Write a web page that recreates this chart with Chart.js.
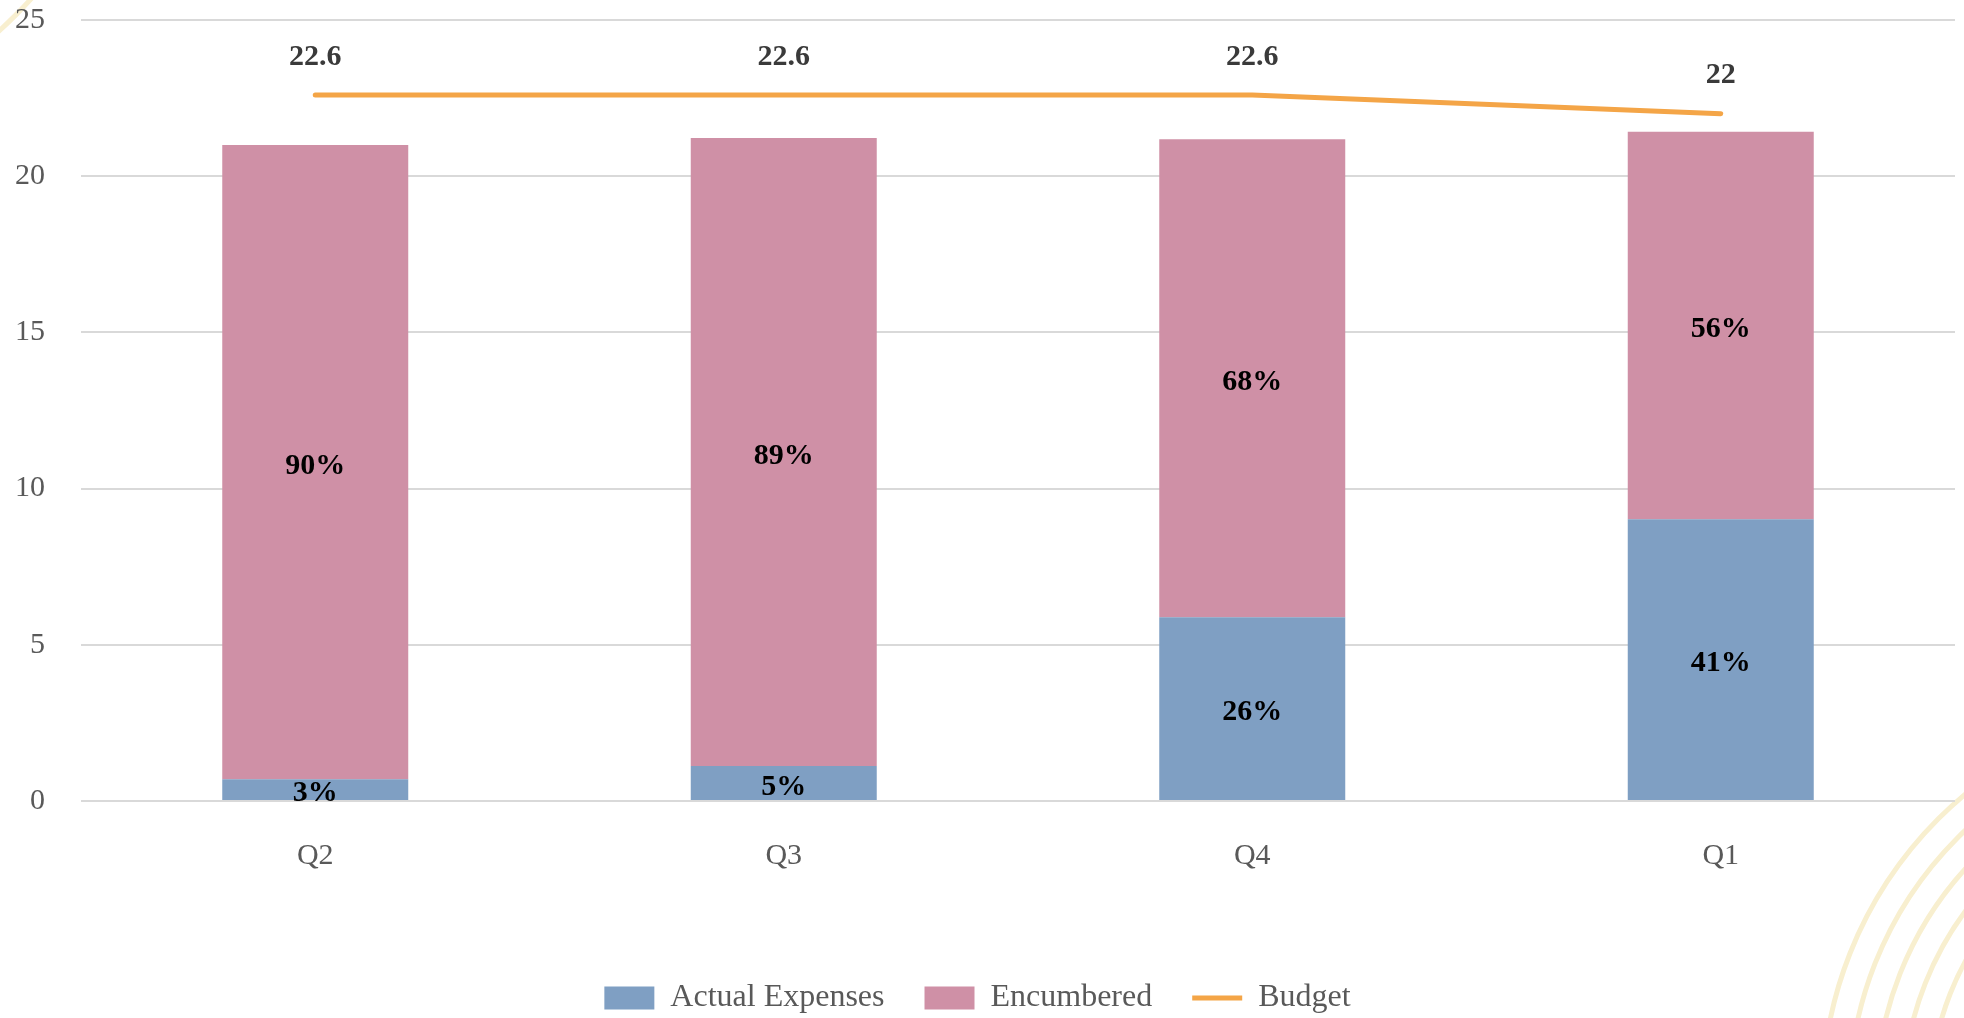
<!DOCTYPE html>
<html>
<head>
<meta charset="utf-8">
<script src="https://cdn.jsdelivr.net/npm/chart.js@4.4.1/dist/chart.umd.min.js"></script>
<style>
  html, body { margin: 0; padding: 0; background: #fff; }
  #wrap { width: 1964px; height: 1018px; position: relative; }
</style>
</head>
<body>
<div id="wrap"><canvas id="myChart"></canvas></div>
<script>
const quarters = ['Q2', 'Q3', 'Q4', 'Q1'];
const actualExpenses = [0.7, 1.12, 5.88, 9.02];
const encumbered = [20.3, 20.1, 15.3, 12.4];
const budget = [22.6, 22.6, 22.6, 22];
const yTicks = [0, 5, 10, 15, 20, 25];

const fontFamily = "'Liberation Serif', 'Times New Roman', serif";

// light arcs in the corners of the slide
const backdrop = {
  id: 'backdrop',
  beforeDraw(chart) {
    const ctx = chart.ctx;
    ctx.save();
    ctx.strokeStyle = '#f8efcf';
    ctx.lineWidth = 5;
    for (let k = 0; k < 6; k++) {
      ctx.beginPath();
      ctx.arc(2220, 1100, 398 - k * 27, 0, Math.PI * 2);
      ctx.stroke();
    }
    ctx.beginPath();
    ctx.arc(-300, -300, 446, 0, Math.PI * 2);
    ctx.stroke();
    ctx.restore();
  }
};

// value labels on the bars and above the budget line
const valueLabels = {
  id: 'valueLabels',
  afterDatasetsDraw(chart) {
    const ctx = chart.ctx;
    ctx.save();
    ctx.textAlign = 'center';
    ctx.textBaseline = 'middle';
    ctx.font = 'bold 30px ' + fontFamily;
    chart.data.datasets.forEach((ds, di) => {
      const meta = chart.getDatasetMeta(di);
      meta.data.forEach((el, i) => {
        const v = ds.data[i];
        if (ds.type === 'line') {
          ctx.fillStyle = '#3a3a3a';
          ctx.fillText(String(v), el.x, el.y - 38);
        } else {
          ctx.fillStyle = '#000';
          const pct = Math.round(v / budget[i] * 100) + '%';
          ctx.fillText(pct, el.x, (el.y + el.base) / 2 + 4);
        }
      });
    });
    ctx.restore();
  }
};

const ctx = document.getElementById('myChart').getContext('2d');
const myChart = new Chart(ctx, {
  data: {
    labels: quarters,
    datasets: [
      {
        type: 'bar',
        label: 'Actual Expenses',
        data: actualExpenses,
        backgroundColor: '#7f9fc3',
        stack: 's',
        order: 1,
        categoryPercentage: 1,
        barPercentage: 0.397
      },
      {
        type: 'bar',
        label: 'Encumbered',
        data: encumbered,
        backgroundColor: '#cf90a6',
        stack: 's',
        order: 1,
        categoryPercentage: 1,
        barPercentage: 0.397
      },
      {
        type: 'line',
        label: 'Budget',
        data: budget,
        borderColor: '#f4a547',
        backgroundColor: '#f4a547',
        borderWidth: 5,
        borderCapStyle: 'round',
        pointRadius: 0,
        tension: 0,
        order: 0
      }
    ]
  },
  options: {
    responsive: true,
    maintainAspectRatio: false,
    animation: false,
    layout: { padding: { top: 20, right: 9, bottom: -6, left: 0 } },
    scales: {
      x: {
        stacked: true,
        grid: { display: false, drawTicks: false },
        border: { display: false },
        ticks: { color: '#595959', font: { family: fontFamily, size: 30 }, padding: 37 },
        afterFit(scale) { scale.height = 141; }
      },
      y: {
        stacked: true,
        min: yTicks[0],
        max: yTicks[yTicks.length - 1],
        grid: { color: '#d9d9d9', lineWidth: 2, drawTicks: false },
        border: { display: false },
        ticks: {
          stepSize: yTicks[1] - yTicks[0],
          color: '#595959',
          font: { family: fontFamily, size: 30 },
          padding: 36
        },
        afterFit(scale) {
          scale.width = 81;
          scale.paddingTop = 0;
        }
      }
    },
    plugins: {
      tooltip: { enabled: false },
      legend: {
        position: 'bottom',
        labels: {
          color: '#595959',
          font: { family: fontFamily, size: 32 },
          usePointStyle: true,
          pointStyleWidth: 50,
          boxHeight: 23,
          padding: 40,
          sort: (a, b) => a.datasetIndex - b.datasetIndex,
          generateLabels(chart) {
            const items = Chart.defaults.plugins.legend.labels.generateLabels(chart);
            items.forEach(it => {
              it.pointStyle = chart.data.datasets[it.datasetIndex].type === 'line' ? 'line' : 'rect';
            });
            return items;
          }
        }
      }
    }
  },
  plugins: [backdrop, valueLabels]
});
</script>
</body>
</html>
